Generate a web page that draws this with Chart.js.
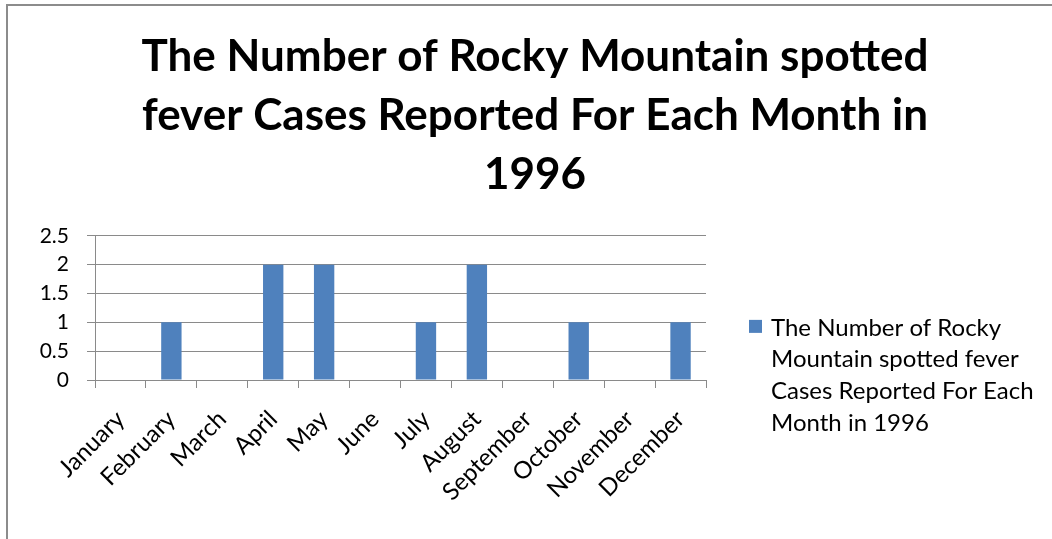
<!DOCTYPE html>
<html><head><meta charset="utf-8">
<script src="https://cdn.jsdelivr.net/npm/chart.js@4/dist/chart.umd.min.js"></script>
<style>
html,body{margin:0;padding:0;background:#fff;overflow:hidden;width:1052px;height:539px;}
#frame{position:absolute;left:6px;top:4px;width:1100px;height:600px;border:2px solid #8c8c8c;box-sizing:border-box;}
#wrap{position:absolute;left:0;top:0;width:1052px;height:539px;}
</style></head><body>
<div id="frame"></div>
<div id="wrap"><canvas id="c" width="1052" height="539"></canvas></div>
<script>
const titleLines = ['The Number of Rocky Mountain spotted', 'fever Cases Reported For Each Month in', '1996'];
const categories = ['January','February','March','April','May','June','July','August','September','October','November','December'];
const seriesName = 'The Number of Rocky Mountain spotted fever Cases Reported For Each Month in 1996';
const values = [0,1,0,2,2,0,1,2,0,1,0,1];
const yMin = 0, yMax = 2.5, yStep = 0.5;

const barColor = '#4F81BD';
const gridColor = '#8a8a8a';

function wrapText(ctx, text, maxW){
  const words = text.split(' ');
  const lines = [];
  let cur = '';
  for (const w of words){
    const t = cur ? cur + ' ' + w : w;
    if (ctx.measureText(t).width > maxW && cur){ lines.push(cur); cur = w; }
    else cur = t;
  }
  if (cur) lines.push(cur);
  return lines;
}

const legendPlugin = {
  id: 'wrapLegend',
  afterDraw(chart){
    const ctx = chart.ctx;
    const ca = chart.chartArea;
    const ds = chart.data.datasets[0];
    ctx.save();
    ctx.font = '24px Lato';
    const lines = wrapText(ctx, ds.label, 285);
    const boxX = ca.right + 43, boxY = ca.top + 84, box = 13;
    ctx.fillStyle = ds.backgroundColor;
    ctx.fillRect(boxX, boxY, box, box);
    ctx.fillStyle = '#000';
    ctx.textBaseline = 'middle';
    ctx.textAlign = 'left';
    const lh = 31.7;
    lines.forEach((l, i) => ctx.fillText(l, boxX + 22, boxY + 8 + i * lh));
    ctx.restore();
  }
};

Chart.defaults.color = '#000';
Chart.defaults.font.family = 'Lato';

new Chart(document.getElementById('c'), {
  type: 'bar',
  data: {
    labels: categories,
    datasets: [{
      label: seriesName,
      data: values,
      backgroundColor: barColor,
      barPercentage: 0.4,
      categoryPercentage: 1.0,
      yAxisID: 'y'
    }]
  },
  options: {
    responsive: false,
    animation: false,
    devicePixelRatio: 1,
    layout: { padding: { left: 18, right: 0, top: 0, bottom: 0 } },
    plugins: {
      legend: { display: false },
      tooltip: { enabled: false },
      title: {
        display: true,
        text: titleLines,
        color: '#000',
        font: { family: 'Lato', size: 44, weight: 'bold', lineHeight: 1.34 },
        padding: { top: 27, bottom: 32 }
      }
    },
    scales: {
      x: {
        grid: { drawOnChartArea: false, drawTicks: true, tickLength: 8, color: gridColor, offset: true },
        border: { display: true, color: gridColor },
        ticks: { maxRotation: 45, minRotation: 45, padding: 17, font: { size: 24 }, color: '#000' },
        afterFit(s){ s.height = 159; }
      },
      y: {
        min: yMin, max: yMax,
        ticks: { stepSize: yStep, padding: 18, font: { size: 21 }, color: '#000', callback: (v) => String(v) },
        grid: { color: gridColor, tickLength: 8, drawTicks: true },
        border: { display: true, color: gridColor },
        afterFit(s){ s.width = 77; }
      },
      yR: {
        position: 'right',
        display: true,
        grid: { display: false },
        border: { display: false },
        ticks: { display: false },
        afterFit(s){ s.width = 346; }
      }
    }
  },
  plugins: [legendPlugin]
});
</script>
</body></html>
